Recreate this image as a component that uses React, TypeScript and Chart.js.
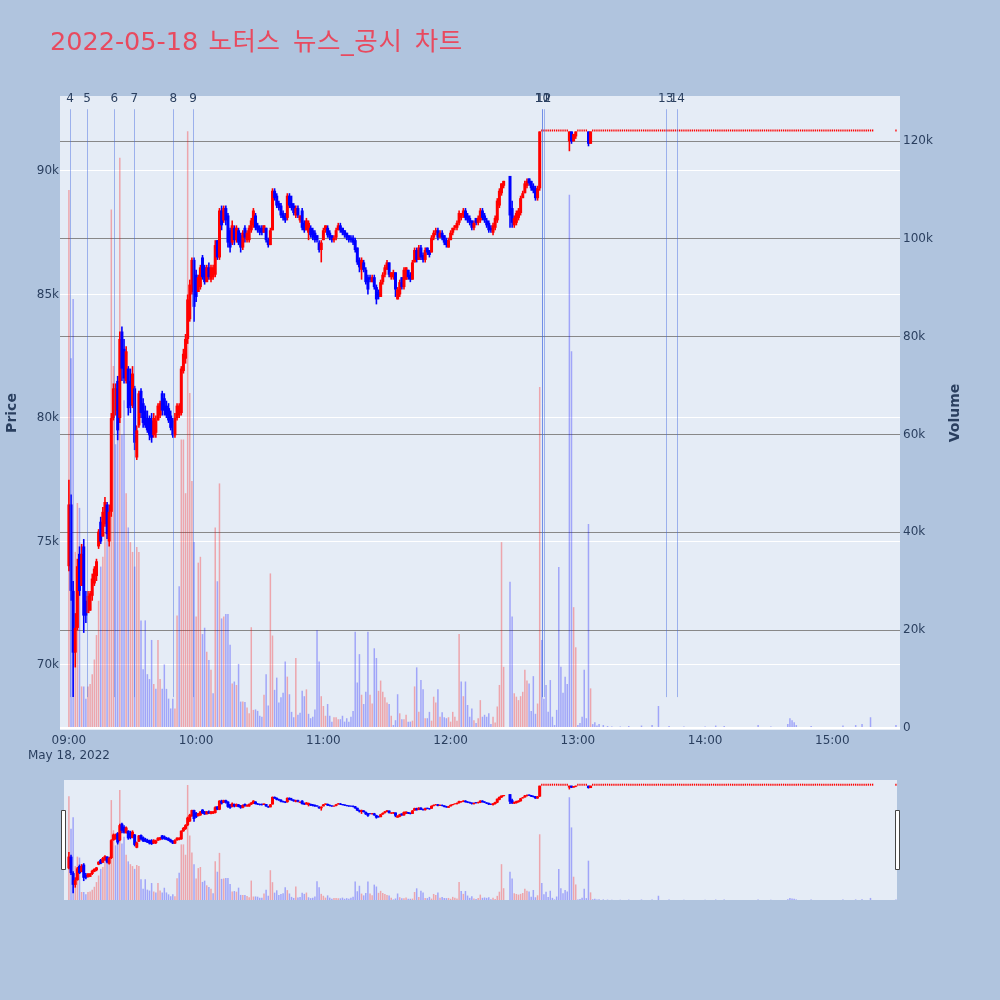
import React, { useEffect, useRef } from "react";
import { Chart, registerables } from "chart.js";

Chart.register(...registerables);

// ---------------- text ----------------
const TITLE_DATE = "2022-05-18";
const TITLE_NAME = "노터스 뉴스_공시 차트";
const DATE_LABEL = "May 18, 2022";
const PRICE_TITLE = "Price";
const VOLUME_TITLE = "Volume";

// ---------------- axes ----------------
const TIME_TICK_MINUTES = [0, 60, 120, 180, 240, 300, 360]; // minutes after 09:00
const TIME_TICK_LABELS = ["09:00", "10:00", "11:00", "12:00", "13:00", "14:00", "15:00"];
const PRICE_TICKS = [70000, 75000, 80000, 85000, 90000];
const VOLUME_TICKS = [0, 20000, 40000, 60000, 80000, 100000, 120000];

// ---------------- 1-minute candles, minute 0 = 09:00, prices in units of 100 KRW ----------------
const OPEN_H = [
  740,765,730,705,715,745,732,748,726,721,
  722,728,733,736,748,758,752,757,765,750,
  762,800,803,815,800,835,828,815,820,815,
  805,812,784,797,811,806,803,800,800,799,
  793,794,799,801,810,808,805,804,801,799,
  793,800,801,802,819,824,832,840,851,864,
  858,851,853,865,861,855,861,856,857,858,
  872,865,884,880,885,882,876,871,877,872,
  876,874,869,877,872,872,876,878,882,878,
  877,877,875,877,872,870,876,892,890,887,
  886,883,882,881,890,887,886,882,885,880,
  884,879,876,875,877,876,875,874,871,868,
  872,876,877,875,874,872,873,876,878,877,
  876,875,874,873,873,872,869,864,860,863,
  860,857,857,855,857,853,851,849,855,858,
  860,863,857,857,859,848,850,857,853,856,
  860,858,856,863,868,864,869,866,864,869,
  868,867,873,875,876,873,875,874,872,869,
  872,875,877,877,879,881,882,884,882,881,
  880,877,881,879,880,884,882,880,879,877,
  875,877,880,886,891,894,null,null,898,885,
  878,879,881,883,889,891,894,897,896,894,
  893,889,893,916,916,916,916,916,916,916,
  916,916,916,916,916,916,912,916,912,914,
  916,916,916,916,916,916,911,
];
const HIGH_H = [
  775,769,734,721,743,748,749,751,730,730,
  730,737,740,743,755,760,764,768,766,765,
  802,814,814,817,835,837,832,829,821,820,
  821,813,797,811,812,808,805,803,801,802,
  802,801,806,807,811,810,807,806,803,800,
  802,806,806,821,828,834,850,856,865,865,
  860,858,862,866,862,862,863,862,862,872,
  872,885,886,886,886,883,877,880,878,878,
  877,875,876,878,876,878,881,885,883,879,
  878,878,878,877,873,877,893,893,891,888,
  887,884,883,891,891,890,887,886,886,882,
  885,880,881,880,878,877,876,874,872,872,
  877,878,878,876,874,874,877,879,879,877,
  876,875,874,874,874,873,869,865,865,864,
  861,858,858,858,858,854,852,856,859,862,
  864,863,859,860,859,853,856,857,861,861,
  860,859,864,869,869,870,870,867,869,869,
  868,874,876,877,877,876,876,874,873,873,
  876,877,878,880,884,883,885,885,883,882,
  880,880,881,882,885,885,883,881,880,878,
  879,882,889,893,895,896,null,null,898,888,
  882,884,885,890,892,896,897,897,896,895,
  894,894,916,916,916,916,916,916,916,916,
  916,916,916,916,916,916,916,916,915,916,
  916,916,916,916,916,916,916,
];
const LOW_H = [
  738,726,687,699,714,728,732,713,717,721,
  722,726,732,734,747,749,752,756,751,748,
  760,799,801,791,798,815,814,814,801,802,
  804,787,783,796,800,796,796,794,791,790,
  792,792,799,800,801,801,800,798,795,792,
  792,799,800,801,818,822,830,839,850,839,
  847,851,852,856,854,855,856,855,856,857,
  864,864,876,879,878,869,867,870,870,871,
  870,867,868,871,871,871,875,877,876,875,
  874,874,875,871,869,870,876,888,885,884,
  881,880,879,880,885,884,882,881,881,879,
  876,875,876,872,873,872,871,871,867,863,
  872,875,873,872,871,871,872,876,875,874,
  873,872,871,871,870,867,862,859,856,859,
  854,850,855,855,852,846,848,849,854,857,
  860,857,856,856,849,848,849,852,852,856,
  856,855,856,863,863,864,864,863,863,866,
  865,867,872,874,872,873,872,870,869,869,
  872,874,876,876,878,880,881,880,879,878,
  876,876,878,878,879,880,879,877,875,875,
  874,876,879,885,890,893,null,null,877,877,
  877,878,880,882,889,891,893,894,892,891,
  888,888,892,916,916,916,916,916,916,916,
  916,916,916,916,916,916,908,911,912,913,
  916,916,916,916,916,910,911,
];
const CLOSE_H = [
  765,730,705,715,740,730,745,720,720,728,
  729,735,739,742,754,750,762,766,753,762,
  800,812,812,795,832,820,816,827,804,805,
  818,790,795,810,802,798,797,795,793,792,
  800,799,805,806,803,803,801,799,796,793,
  800,805,805,820,826,832,848,854,864,845,
  849,857,861,857,855,861,857,861,861,870,
  865,884,878,885,880,871,869,878,872,877,
  871,869,875,873,875,877,880,884,877,876,
  875,875,878,872,870,876,892,889,886,885,
  882,881,880,890,886,885,883,885,882,882,
  877,876,880,879,874,873,872,872,868,871,
  876,878,874,873,872,873,876,878,876,875,
  874,873,872,872,871,868,863,861,864,860,
  855,852,856,857,853,848,849,855,858,861,
  863,858,859,859,852,852,855,853,860,861,
  857,856,863,868,864,869,865,864,868,867,
  866,873,875,876,873,875,873,871,870,872,
  875,877,878,879,883,883,884,881,880,879,
  877,879,879,881,884,881,880,878,876,876,
  878,881,888,892,895,896,null,null,882,879,
  881,883,884,889,891,895,896,895,893,892,
  889,893,916,916,916,916,916,916,916,916,
  916,916,916,916,916,916,916,912,915,916,
  916,916,916,916,916,911,916,
];

// after 13:07 every minute prints at the daily upper limit until 15:19, then the 15:30 close
const LIMIT_PRICE_H = 916;
const LIMIT_RUN_MINUTES = [247, 379];
const CLOSING_MINUTE = 390;

// volume per minute, thousands of shares (minute 0..246)
const VOLUME_K = [
  110,75.6,87.7,36,46,45,8.5,8.5,6,8.5,
  9,11,14,19,26,33,35,40,43,45,
  106,74,58,72,116.6,60,67,48,41,38,
  36,33,37,36,22,12,22,11,10,18,
  9,8,18,10,8,13,8,6,4,6,
  4,23,29,59,59,48,122,68.5,50.5,38,
  22.8,33.8,35,19.2,20.5,15.6,13.9,11.9,7.1,41,
  30,50,22.4,22.8,23.3,23.3,17,9.1,9.5,8.8,
  13.1,5.4,5.4,5.3,4.2,3,20.6,3.7,3.8,3.5,
  2.5,2.3,6.8,11,4.6,31.6,18.9,7.8,10.3,5.2,
  6.3,7.2,13.6,10.5,6.9,3.3,2.2,14.3,2.7,3.1,
  7.6,6.5,7.9,2.9,2,2.3,3.8,20,13.6,6.5,
  4.5,2.5,4.9,2.5,1.3,2.2,2.2,1.8,1.8,2.5,
  1.3,2,1.3,2.3,3.5,19.7,9.3,15.1,6.8,4.9,
  7.4,19.7,6.8,5,16.3,14.3,7.6,9.7,7.4,6.3,
  5.2,4.9,2.5,0.6,1.6,6.9,3,1.8,1.8,2.7,
  1.3,1.3,1.5,8.5,12.4,3.3,9.8,7.9,2,2,
  3.3,1.5,6.4,5.2,7.9,2.3,3.2,2.2,2,2.2,
  1.3,3.3,2.3,1.5,19.2,9.5,6.5,9.5,4.7,2.3,
  4,1.6,1,2,5.7,2.3,2.7,2.3,3,0.8,
  2.3,1.1,4.4,8.8,38,12.5,null,null,29.9,22.8,
  7.1,6.4,5.7,6.5,7.4,11.9,9.7,9.1,3.5,10.6,
  2.9,5,69.7,18,6,8.8,3.3,9.8,2.3,0.6,
  3.7,32.9,12.5,7.2,10.5,9,109,77,24.7,16.5,
  0.6,1,2.3,11.9,2,41.7,8.1,
];
// [minute, thousands of shares] during the upper-limit period
const LATE_VOLUME_K = [
  [247,0.8],[248,1.2],[249,0.5],[250,0.8],[252,0.6],[254,0.4],[256,0.3],[260,0.3],
  [264,0.4],[270,0.5],[275,0.6],[278,4.5],[283,0.4],[290,0.3],[300,0.3],[305,0.5],
  [309,0.4],[325,0.6],[331,0.3],[339,0.8],[340,2],[341,1.6],[342,1.2],[343,0.6],
  [350,0.4],[365,0.5],[371,0.6],[374,0.8],[378,2.2],[390,0.6],
];

// news / disclosure markers
const EVENT_LABELS = ["4", "5", "6", "7", "8", "9", "10", "11", "12", "13", "14"];
const EVENT_MINUTES = [0.5, 8.6, 21.4, 30.8, 49.2, 58.5, 223.3, 223.3, 223.9, 281.4, 286.9];
const EVENT_LINE_PRICE = [68700, 92500];

// ---------------- style ----------------
const FONT = "'DejaVu Sans', Verdana, 'Noto Sans CJK KR', sans-serif";
const INK = "#2a3f5f";
const PAGE_BG = "#b0c4de";
const PLOT_BG = "#e5ecf6";
const TITLE_COLOR = "#e84a5f";
const UP = "#ff0000";
const DOWN = "#0000ff";
const UP_VOL = "rgba(255,0,0,0.3)";
const DOWN_VOL = "rgba(0,0,255,0.3)";
const EVENT_COLOR = "rgba(65,105,225,0.45)";

type Row = { t: number; o: number; h: number; l: number; c: number; v: number };

function buildRows(): Row[] {
  const rows: Row[] = [];
  for (let t = 0; t < OPEN_H.length; t++) {
    if (OPEN_H[t] == null) continue;
    rows.push({
      t,
      o: (OPEN_H[t] as number) * 100,
      h: (HIGH_H[t] as number) * 100,
      l: (LOW_H[t] as number) * 100,
      c: (CLOSE_H[t] as number) * 100,
      v: ((VOLUME_K[t] as number) || 0) * 1000,
    });
  }
  const late = new Map<number, number>(LATE_VOLUME_K.map((p) => [p[0], p[1]] as [number, number]));
  const minutes: number[] = [];
  for (let t = LIMIT_RUN_MINUTES[0]; t <= LIMIT_RUN_MINUTES[1]; t++) minutes.push(t);
  minutes.push(CLOSING_MINUTE);
  for (const t of minutes) {
    const p = LIMIT_PRICE_H * 100;
    rows.push({ t, o: p, h: p, l: p, c: p, v: (late.get(t) || 0) * 1000 });
  }
  return rows;
}

function buildDatasets(rows: Row[], sizes: { body: number; wick: number; flat: number; vol: number }) {
  const wick: any[] = [], wickC: string[] = [];
  const body: any[] = [], bodyC: string[] = [];
  const flat: any[] = [], flatC: string[] = [];
  const vol: any[] = [], volC: string[] = [];
  rows.forEach((r, i) => {
    const prev = i > 0 ? rows[i - 1] : null;
    const up = r.c > r.o || (r.c === r.o && (!prev || r.c >= prev.c));
    const col = up ? UP : DOWN;
    if (r.h > r.l) { wick.push({ x: r.t, y: [r.l, r.h] }); wickC.push(col); }
    if (r.o !== r.c) { body.push({ x: r.t, y: [Math.min(r.o, r.c), Math.max(r.o, r.c)] }); bodyC.push(col); }
    else { flat.push({ x: r.t, y: [r.c, r.c] }); flatC.push(col); }
    if (r.v > 0) {
      const vup = prev ? r.c > prev.c : r.c > r.o;
      vol.push({ x: r.t, y: r.v });
      volC.push(vup ? UP_VOL : DOWN_VOL);
    }
  });
  const common = { grouped: false, inflateAmount: 0, borderWidth: 0, xAxisID: "x" };
  return [
    { ...common, label: "Volume", data: vol, backgroundColor: volC, barThickness: sizes.vol, yAxisID: "yv", order: 3 },
    { ...common, label: "wick", data: wick, backgroundColor: wickC, barThickness: sizes.wick, yAxisID: "y", order: 2 },
    { ...common, label: "body", data: body, backgroundColor: bodyC, barThickness: sizes.body, yAxisID: "y", order: 1 },
    { ...common, label: "flat", data: flat, backgroundColor: flatC, barThickness: sizes.flat, minBarLength: 2, yAxisID: "y", order: 0 },
  ];
}

const backgroundPlugin = {
  id: "bgfill",
  beforeDraw(chart: any) {
    const { ctx, chartArea, width, height } = chart;
    ctx.save();
    ctx.fillStyle = PAGE_BG;
    ctx.fillRect(0, 0, width, height);
    ctx.fillStyle = PLOT_BG;
    ctx.fillRect(chartArea.left, chartArea.top, chartArea.right - chartArea.left, chartArea.bottom - chartArea.top);
    ctx.restore();
  },
};

const eventPlugin = {
  id: "eventlines",
  afterDatasetsDraw(chart: any) {
    const { ctx, scales } = chart;
    const xs = scales.x, ys = scales.y;
    const top = ys.getPixelForValue(EVENT_LINE_PRICE[1]);
    const bottom = ys.getPixelForValue(EVENT_LINE_PRICE[0]);
    ctx.save();
    ctx.strokeStyle = EVENT_COLOR;
    ctx.lineWidth = 1;
    EVENT_MINUTES.forEach((m) => {
      const px = Math.round(xs.getPixelForValue(m)) + 0.5;
      ctx.beginPath();
      ctx.moveTo(px, top);
      ctx.lineTo(px, bottom);
      ctx.stroke();
    });
    ctx.fillStyle = INK;
    ctx.font = `12px ${FONT}`;
    ctx.textAlign = "center";
    ctx.textBaseline = "alphabetic";
    EVENT_MINUTES.forEach((m, i) => {
      ctx.fillText(EVENT_LABELS[i], xs.getPixelForValue(m), top - 7.5);
    });
    ctx.restore();
  },
};

const titlesPlugin = {
  id: "titles",
  afterDraw(chart: any) {
    const { ctx, chartArea } = chart;
    const midY = (chartArea.top + chartArea.bottom) / 2;
    ctx.save();
    ctx.fillStyle = TITLE_COLOR;
    ctx.font = `25.5px ${FONT}`;
    ctx.textAlign = "left";
    ctx.textBaseline = "alphabetic";
    ctx.fillText(TITLE_DATE, 50, 50);
    const c: any = ctx;
    c.letterSpacing = "0.6px";
    c.wordSpacing = "3.5px";
    ctx.fillText(TITLE_NAME, 208.5, 50);
    c.letterSpacing = "0px";
    c.wordSpacing = "0px";

    ctx.fillStyle = INK;
    ctx.font = `bold 14px ${FONT}`;
    ctx.textAlign = "center";
    ctx.save();
    ctx.translate(15.5, midY);
    ctx.rotate(-Math.PI / 2);
    ctx.fillText(PRICE_TITLE, 0, 0);
    ctx.restore();
    ctx.save();
    ctx.translate(958.5, midY);
    ctx.rotate(-Math.PI / 2);
    ctx.fillText(VOLUME_TITLE, 0, 0);
    ctx.restore();
    ctx.restore();
  },
};

const handlesPlugin = {
  id: "handles",
  afterDraw(chart: any) {
    const { ctx, chartArea } = chart;
    const mid = (chartArea.top + chartArea.bottom) / 2;
    ctx.save();
    ctx.fillStyle = "#ffffff";
    ctx.strokeStyle = "#444444";
    ctx.lineWidth = 1;
    [chartArea.left - 1, chartArea.right].forEach((cx) => {
      ctx.beginPath();
      ctx.rect(Math.round(cx - 2) + 0.5, Math.round(mid - 30) + 0.5, 4, 59);
      ctx.fill();
      ctx.stroke();
    });
    ctx.restore();
  },
};

function fixedTicks(values: number[]) {
  return (scale: any) => {
    scale.ticks = values.map((v) => ({ value: v }));
  };
}

export default function App() {
  const mainRef = useRef<HTMLCanvasElement>(null);
  const sliderRef = useRef<HTMLCanvasElement>(null);

  useEffect(() => {
    const rows = buildRows();
    const tickFont = { family: FONT, size: 12 };
    const main = new Chart(mainRef.current as HTMLCanvasElement, {
      type: "bar",
      data: { datasets: buildDatasets(rows, { body: 3, wick: 1.6, flat: 1.3, vol: 1.5 }) as any },
      options: {
        animation: false,
        responsive: false,
        maintainAspectRatio: false,
        devicePixelRatio: 1,
        events: [],
        layout: { padding: { top: 96, left: 0, right: 0, bottom: 0 } },
        plugins: { legend: { display: false }, tooltip: { enabled: false }, title: { display: false } },
        scales: {
          x: {
            type: "linear",
            min: -4.2,
            max: 391.9,
            offset: false,
            grid: { display: false, drawTicks: false },
            border: { display: false },
            ticks: {
              color: INK,
              font: tickFont,
              padding: 4,
              maxRotation: 0,
              autoSkip: false,
              callback: (_v: any, i: number) => (i === 0 ? [TIME_TICK_LABELS[0], DATE_LABEL] : TIME_TICK_LABELS[i]),
            },
            afterBuildTicks: fixedTicks(TIME_TICK_MINUTES),
            afterFit: (s: any) => { s.height = 45; },
          },
          y: {
            type: "linear",
            position: "left",
            min: 67368,
            max: 93036,
            grid: { color: "#ffffff", lineWidth: 1, drawTicks: false },
            border: { display: false },
            ticks: { color: INK, font: tickFont, padding: 1, callback: (v: any) => `${Number(v) / 1000}k` },
            afterBuildTicks: fixedTicks(PRICE_TICKS),
            afterFit: (s: any) => { s.width = 60; },
          },
          yv: {
            type: "linear",
            position: "right",
            min: -409,
            max: 129200,
            grid: {
              drawTicks: false,
              color: (c: any) => (c.tick && c.tick.value === 0 ? "#ffffff" : "#888888"),
              lineWidth: (c: any) => (c.tick && c.tick.value === 0 ? 2 : 1),
            },
            border: { display: false },
            ticks: { color: INK, font: tickFont, padding: 3, callback: (v: any) => (Number(v) === 0 ? "0" : `${Number(v) / 1000}k`) },
            afterBuildTicks: fixedTicks(VOLUME_TICKS),
            afterFit: (s: any) => { s.width = 100; },
          },
        },
      } as any,
      plugins: [backgroundPlugin, eventPlugin, titlesPlugin],
    });

    const slider = new Chart(sliderRef.current as HTMLCanvasElement, {
      type: "bar",
      data: { datasets: buildDatasets(rows, { body: 3, wick: 1.6, flat: 1.3, vol: 1.5 }) as any },
      options: {
        animation: false,
        responsive: false,
        maintainAspectRatio: false,
        devicePixelRatio: 1,
        events: [],
        layout: { padding: { top: 10, left: 64, right: 103, bottom: 10 } },
        plugins: { legend: { display: false }, tooltip: { enabled: false }, title: { display: false } },
        scales: {
          x: { type: "linear", display: false, min: -2.31, max: 390.5, offset: false, grid: { display: false } },
          y: { type: "linear", display: false, min: 67270, max: 92810 },
          yv: { type: "linear", display: false, min: 0, max: 127300 },
        },
      } as any,
      plugins: [
        {
          id: "sliderbg",
          beforeDraw(chart: any) {
            const { ctx, chartArea } = chart;
            ctx.save();
            ctx.fillStyle = PLOT_BG;
            ctx.fillRect(chartArea.left, chartArea.top, chartArea.right - chartArea.left, chartArea.bottom - chartArea.top);
            ctx.restore();
          },
        },
        handlesPlugin,
      ],
    });

    return () => {
      main.destroy();
      slider.destroy();
    };
  }, []);

  return (
    <div style={{ position: "fixed", left: 0, top: 0, width: 1000, height: 1000, background: PAGE_BG, overflow: "hidden" }}>
      <canvas ref={mainRef} width={1000} height={775} style={{ position: "absolute", left: 0, top: 0, width: 1000, height: 775 }} />
      <canvas ref={sliderRef} width={1000} height={140} style={{ position: "absolute", left: 0, top: 770, width: 1000, height: 140 }} />
    </div>
  );
}
